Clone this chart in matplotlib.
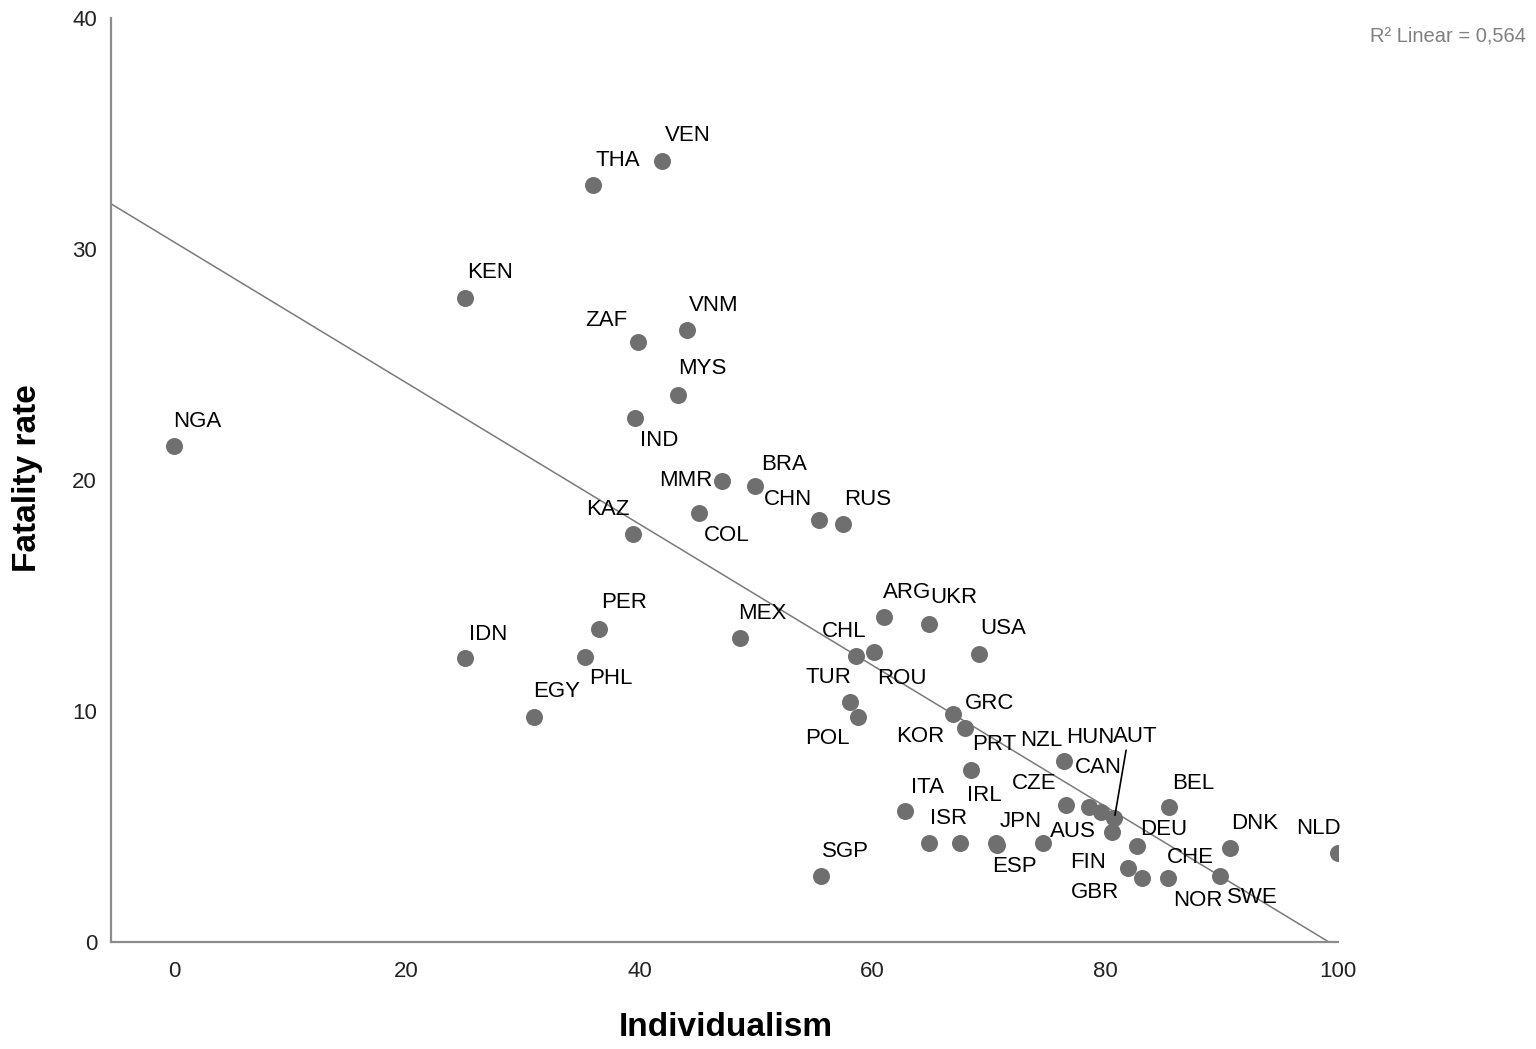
import numpy as np
import matplotlib.pyplot as plt

plt.rcParams["font.family"] = ["Liberation Sans", "DejaVu Sans"]

countries = [
    "NGA", "IDN", "KEN", "EGY", "PHL", "PER", "THA", "ZAF", "IND", "KAZ",
    "VEN", "MYS", "VNM", "COL", "MMR", "BRA", "MEX", "CHN", "RUS", "SGP",
    "CHL", "ROU", "ARG", "UKR", "USA", "TUR", "POL", "GRC", "KOR", "PRT",
    "ITA", "ISR", "IRL", "JPN", "ESP", "AUS", "NZL", "CZE", "HUN", "CAN",
    "AUT", "FIN", "DEU", "GBR", "NOR", "CHE", "BEL", "DNK", "SWE", "NLD",
]
individualism = [
    0.0, 25.0, 25.0, 30.9, 35.3, 36.5, 36.0, 39.9, 39.6, 39.4,
    41.9, 43.3, 44.1, 45.1, 47.1, 49.9, 48.6, 55.4, 57.5, 55.6,
    58.6, 60.1, 61.0, 64.9, 69.2, 58.1, 58.8, 66.9, 68.0, 68.5,
    62.8, 64.9, 67.5, 70.6, 70.7, 74.7, 76.5, 76.6, 78.6, 79.6,
    80.8, 80.6, 82.7, 82.0, 83.2, 85.4, 85.5, 90.7, 89.9, 100.0,
]
fatality = [
    21.47, 12.29, 27.88, 9.74, 12.34, 13.55, 32.77, 25.97, 22.68, 17.66,
    33.81, 23.68, 26.49, 18.57, 19.96, 19.74, 13.16, 18.27, 18.10, 2.86,
    12.38, 12.55, 14.07, 13.77, 12.47, 10.39, 9.74, 9.87, 9.26, 7.45,
    5.67, 4.29, 4.29, 4.29, 4.20, 4.29, 7.84, 5.93, 5.84, 5.63,
    5.37, 4.76, 4.16, 3.20, 2.77, 2.77, 5.84, 4.07, 2.86, 3.85,
]
r2_text = "R² Linear = 0,564"

# label placement relative to each dot, screen pixels (right, down)
label_offsets = {
    "NGA": (23, -25), "IDN": (23, -24), "KEN": (25, -25), "EGY": (23, -26),
    "PHL": (26, 22), "PER": (25, -26), "THA": (25, -25), "ZAF": (-32, -22),
    "IND": (24, 22), "KAZ": (-25, -25), "VEN": (26, -25), "MYS": (24, -26),
    "VNM": (26, -25), "COL": (28, 22), "MMR": (-36, 0), "BRA": (29, -22),
    "MEX": (23, -25), "CHN": (-31, -20), "RUS": (24, -24), "SGP": (24, -24),
    "CHL": (-12, -25), "ROU": (28, 26), "ARG": (23, -24), "UKR": (24, -26),
    "USA": (24, -25), "TUR": (-22, -24), "POL": (-31, 21), "GRC": (37, -11),
    "KOR": (-45, 8), "PRT": (23, -25), "ITA": (23, -24), "ISR": (19, -24),
    "IRL": (25, -47), "JPN": (25, -21), "ESP": (18, 22), "AUS": (29, -11),
    "NZL": (-23, -20), "CZE": (-31, -22), "HUN": (1, -70), "CAN": (-2, -44),
    "AUT": (21, -81), "FIN": (-24, 30), "DEU": (27, -16), "GBR": (-33, 24),
    "NOR": (55, 22), "CHE": (22, -21), "BEL": (24, -24), "DNK": (25, -24),
    "SWE": (32, 22), "NLD": (-20, -25),
}

fig = plt.figure(figsize=(15.36, 10.49), dpi=100)
ax = fig.add_axes([111 / 1536, 1 - 942 / 1049, (1338 - 111) / 1536, (942 - 18) / 1049])

x = np.array(individualism)
y = np.array(fatality)
ax.scatter(x, y, s=150, color="#6f6f6f", linewidths=0, zorder=3)

slope, intercept = np.polyfit(x, y, 1)
xs = np.array([-5.4, 100])
ax.plot(xs, slope * xs + intercept, color="#7a7a7a", lw=1.1, zorder=2)

for name, xi, yi in zip(countries, individualism, fatality):
    dx, dy = label_offsets[name]
    if name == "AUT":
        ax.annotate(name, (xi, yi), xytext=(dx, -dy), textcoords="offset pixels",
                    ha="center", va="center", fontsize=16, zorder=4,
                    arrowprops=dict(arrowstyle="-", color="black", lw=1.2,
                                    shrinkA=0, shrinkB=2, relpos=(0.3, 0.0)))
    else:
        ax.annotate(name, (xi, yi), xytext=(dx, -dy), textcoords="offset pixels",
                    ha="center", va="center", fontsize=16, zorder=4)

ax.set_xlim(-5.4, 100)
ax.set_ylim(0, 40)
ax.set_xticks([0, 20, 40, 60, 80, 100])
ax.set_yticks([0, 10, 20, 30, 40])
ax.tick_params(length=0, labelsize=16, colors="#222222")
ax.tick_params(axis="x", pad=14)
ax.tick_params(axis="y", pad=10)
for side in ["top", "right"]:
    ax.spines[side].set_visible(False)
for side in ["left", "bottom"]:
    ax.spines[side].set_color("#8c8c8c")
    ax.spines[side].set_linewidth(1.6)

fig.text(28 / 1536, 1 - 478 / 1049, "Fatality rate", rotation=90, ha="center",
         va="center", fontsize=24, fontweight="bold")
fig.text(726 / 1536, 1 - 1028 / 1049, "Individualism", ha="center", va="center",
         fontsize=24, fontweight="bold")
fig.text(1526 / 1536, 1 - 36 / 1049, r2_text, ha="right", va="center",
         fontsize=14.5, color="#808080")

fig.savefig("out.png", dpi=100)
